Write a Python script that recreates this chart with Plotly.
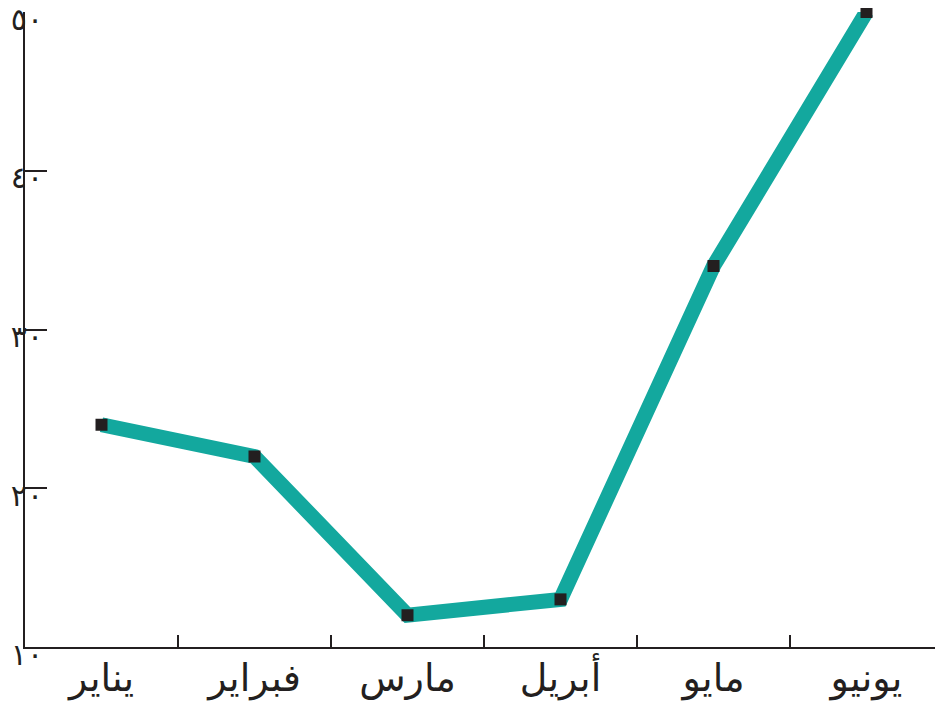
import plotly.graph_objects as go

# الأشهر والقيم
months = ['يناير', 'فبراير', 'مارس', 'أبريل', 'مايو', 'يونيو']
values = [24, 22, 12, 13, 34, 50]
y_ticks = [10, 20, 30, 40, 50]
y_tick_labels = ['١٠', '٢٠', '٣٠', '٤٠', '٥٠']

line_color = '#13a89e'
ink = '#231f20'

fig = go.Figure()

fig.add_trace(go.Scatter(
    x=months,
    y=values,
    mode='lines+markers',
    line=dict(color=line_color, width=15),
    marker=dict(symbol='square', size=12, color=ink),
    cliponaxis=False,
    hoverinfo='skip'
))

# la page ajoute 8px de marge autour du graphique : on compense ici
fig.update_layout(
    width=943,
    height=702,
    margin=dict(l=17, r=8, t=4, b=63),
    paper_bgcolor='white',
    plot_bgcolor='white',
    showlegend=False,
    font=dict(family='DejaVu Sans', color=ink),
    xaxis=dict(
        type='category',
        range=[-0.5, 5.5],
        automargin=False,
        showgrid=False,
        zeroline=False,
        showline=True,
        linecolor=ink,
        linewidth=2,
        ticks='inside',
        ticklen=12,
        tickwidth=2,
        tickcolor=ink,
        tickson='boundaries',
        tickfont=dict(size=38, color=ink),
        ticklabelstandoff=-4,
    ),
    yaxis=dict(
        range=[10, 50],
        tickvals=y_ticks,
        ticktext=y_tick_labels,
        automargin=False,
        showgrid=False,
        zeroline=False,
        showline=True,
        linecolor=ink,
        linewidth=2,
        ticks='inside',
        ticklen=22,
        tickwidth=2,
        tickcolor=ink,
        tickfont=dict(size=30, color=ink),
        ticklabeloverflow='allow',
        ticklabelstandoff=-26,
        ticklabelshift=7,
    ),
)

fig.write_html('out.html')
